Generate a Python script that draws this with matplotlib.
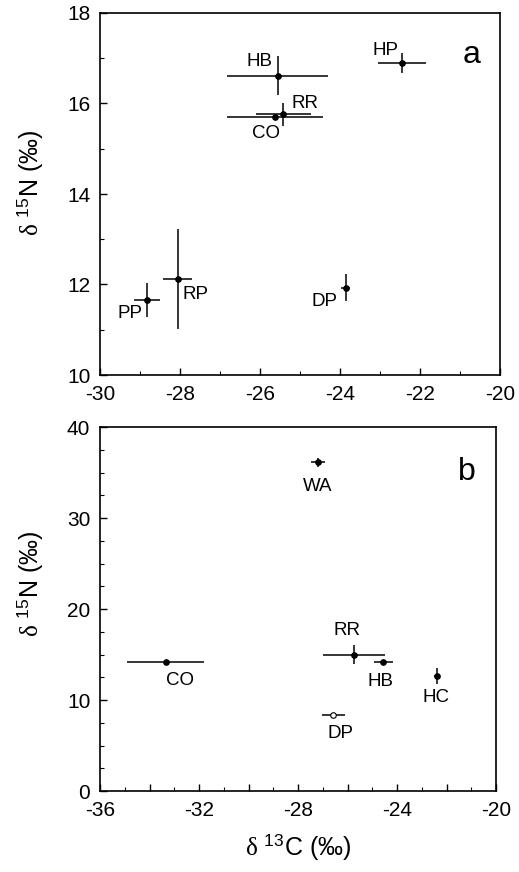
import matplotlib
matplotlib.use("Agg")
import matplotlib.pyplot as plt
from matplotlib.ticker import MultipleLocator, FuncFormatter

plt.rcParams.update({
    "font.family": ["Liberation Sans", "DejaVu Sans"],
    "mathtext.fontset": "custom",
    "mathtext.rm": "Liberation Sans",
    "mathtext.it": "Liberation Serif",
    "axes.unicode_minus": False,
    "font.size": 14,
})

# panel a
a_names = ["HB", "RR", "CO", "HP", "PP", "RP", "DP"]
a_x = [-25.56, -25.42, -25.63, -22.46, -28.83, -28.06, -23.86]
a_y = [16.61, 15.76, 15.71, 16.89, 11.66, 12.12, 11.93]
a_xerr = [1.26, 0.69, 1.2, 0.6, 0.33, 0.36, 0.12]
a_yerr = [0.43, 0.25, 0.0, 0.22, 0.38, 1.1, 0.3]

# panel b
b_names = ["WA", "RR", "CO", "HB", "HC", "DP"]
b_x = [-27.2, -25.74, -33.35, -24.55, -22.4, -26.57]
b_y = [36.1, 15.0, 14.2, 14.14, 12.64, 8.35]
b_xerr = [0.28, 1.25, 1.54, 0.37, 0.1, 0.48]
b_yerr = [0.5, 1.05, 0.0, 0.0, 0.9, 0.0]
b_open = ["DP"]

# label offsets in pixels (dx, dy)
a_off = {"HB": (-18, 14), "RR": (22, 11), "CO": (-9, -17), "HP": (-16, 13),
         "PP": (-17, -14), "RP": (18, -15), "DP": (-21, -14)}
b_off = {"WA": (0, -24), "RR": (-7, 24), "CO": (14, -19), "HB": (-3, -19),
         "HC": (-1, -22), "DP": (7, -18)}

fig = plt.figure(figsize=(5.19, 8.72), dpi=100)
ax1 = fig.add_axes([100 / 519, 1 - 375 / 872, 400 / 519, 362 / 872])
ax2 = fig.add_axes([100 / 519, 1 - 791 / 872, 396 / 519, 364 / 872])


def draw(ax, names, xs, ys, xe, ye, offs, open_pts=()):
    for n, x, y, dx, dy in zip(names, xs, ys, xe, ye):
        fc = "white" if n in open_pts else "black"
        ax.errorbar(x, y, xerr=dx, yerr=dy if dy else None, fmt="o", ms=4,
                    mfc=fc, mec="black", mew=0.8, ecolor="black",
                    elinewidth=1.1, capsize=0, zorder=3)
        ox, oy = offs[n]
        ax.annotate(n, (x, y), xytext=(ox, oy), textcoords="offset pixels",
                    ha="center", va="center", fontsize=13.5)


def style(ax):
    for s in ax.spines.values():
        s.set_linewidth(1.2)
    ax.tick_params(which="both", direction="in", top=False, right=False,
                   labelsize=15, pad=7)
    ax.tick_params(which="major", length=5, width=1)
    ax.tick_params(which="minor", length=3, width=0.8)


ylab = r"$\delta$ $^{\mathrm{15}}$N (‰)"

draw(ax1, a_names, a_x, a_y, a_xerr, a_yerr, a_off)
ax1.set_xlim(-30, -20)
ax1.set_ylim(10, 18)
ax1.xaxis.set_major_locator(MultipleLocator(2))
ax1.xaxis.set_minor_locator(MultipleLocator(1))
ax1.yaxis.set_major_locator(MultipleLocator(2))
ax1.yaxis.set_minor_locator(MultipleLocator(1))
style(ax1)
ax1.set_ylabel(ylab, fontsize=18)
ax1.yaxis.set_label_coords(-0.137, 0.53)
ax1.text(0.93, 0.884, "a", transform=ax1.transAxes, fontsize=23,
         ha="center", va="center")

draw(ax2, b_names, b_x, b_y, b_xerr, b_yerr, b_off, b_open)
ax2.set_xlim(-36, -20)
ax2.set_ylim(0, 40)
ax2.xaxis.set_major_locator(MultipleLocator(2))
ax2.xaxis.set_minor_locator(MultipleLocator(1))
ax2.xaxis.set_major_formatter(FuncFormatter(
    lambda v, p: f"{v:.0f}" if round(v) % 4 == 0 else ""))
ax2.yaxis.set_major_locator(MultipleLocator(10))
ax2.yaxis.set_minor_locator(MultipleLocator(2.5))
style(ax2)
ax2.set_ylabel(ylab, fontsize=18)
ax2.yaxis.set_label_coords(-0.138, 0.57)
ax2.set_xlabel(r"$\delta$ $^{\mathrm{13}}$C (‰)", fontsize=18, labelpad=9)
ax2.text(0.927, 0.876, "b", transform=ax2.transAxes, fontsize=23,
         ha="center", va="center")

fig.savefig("out.png", dpi=100)
